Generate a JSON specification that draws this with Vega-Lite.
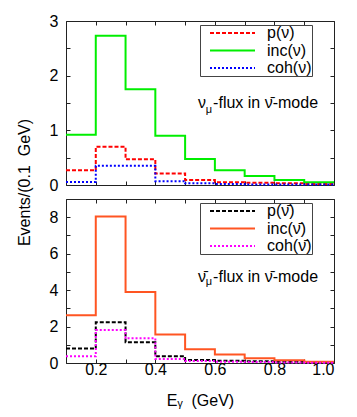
{
  "$schema": "https://vega.github.io/schema/vega-lite/v6.json",
  "autosize": {"type": "pad"},
  "padding": {"left": 15, "top": 12, "right": 24, "bottom": 5},
  "background": "white",
  "spacing": 14,
  "bounds": "flush",
  "datasets": {
    "top": [
      {"s": "p(ν)", "x": 0.1, "y": 0.27}, {"s": "p(ν)", "x": 0.2, "y": 0.70}, {"s": "p(ν)", "x": 0.3, "y": 0.47}, {"s": "p(ν)", "x": 0.4, "y": 0.21}, {"s": "p(ν)", "x": 0.5, "y": 0.09}, {"s": "p(ν)", "x": 0.6, "y": 0.05}, {"s": "p(ν)", "x": 0.7, "y": 0.04}, {"s": "p(ν)", "x": 0.8, "y": 0.03}, {"s": "p(ν)", "x": 0.9, "y": 0.02}, {"s": "p(ν)", "x": 1.0, "y": 0.02},
      {"s": "inc(ν)", "x": 0.1, "y": 0.92}, {"s": "inc(ν)", "x": 0.2, "y": 2.73}, {"s": "inc(ν)", "x": 0.3, "y": 1.75}, {"s": "inc(ν)", "x": 0.4, "y": 0.90}, {"s": "inc(ν)", "x": 0.5, "y": 0.475}, {"s": "inc(ν)", "x": 0.6, "y": 0.27}, {"s": "inc(ν)", "x": 0.7, "y": 0.165}, {"s": "inc(ν)", "x": 0.8, "y": 0.09}, {"s": "inc(ν)", "x": 0.9, "y": 0.05}, {"s": "inc(ν)", "x": 1.0, "y": 0.05},
      {"s": "coh(ν)", "x": 0.1, "y": 0.055}, {"s": "coh(ν)", "x": 0.2, "y": 0.35}, {"s": "coh(ν)", "x": 0.3, "y": 0.35}, {"s": "coh(ν)", "x": 0.4, "y": 0.07}, {"s": "coh(ν)", "x": 0.5, "y": 0.03}, {"s": "coh(ν)", "x": 0.6, "y": 0.02}, {"s": "coh(ν)", "x": 0.7, "y": 0.01}, {"s": "coh(ν)", "x": 0.8, "y": 0.01}, {"s": "coh(ν)", "x": 0.9, "y": 0.01}, {"s": "coh(ν)", "x": 1.0, "y": 0.01}
    ],
    "bottom": [
      {"s": "p(ν̄)", "x": 0.1, "y": 0.79}, {"s": "p(ν̄)", "x": 0.2, "y": 2.23}, {"s": "p(ν̄)", "x": 0.3, "y": 1.14}, {"s": "p(ν̄)", "x": 0.4, "y": 0.37}, {"s": "p(ν̄)", "x": 0.5, "y": 0.16}, {"s": "p(ν̄)", "x": 0.6, "y": 0.13}, {"s": "p(ν̄)", "x": 0.7, "y": 0.09}, {"s": "p(ν̄)", "x": 0.8, "y": 0.07}, {"s": "p(ν̄)", "x": 0.9, "y": 0.05}, {"s": "p(ν̄)", "x": 1.0, "y": 0.05},
      {"s": "inc(ν̄)", "x": 0.1, "y": 2.62}, {"s": "inc(ν̄)", "x": 0.2, "y": 8.04}, {"s": "inc(ν̄)", "x": 0.3, "y": 3.90}, {"s": "inc(ν̄)", "x": 0.4, "y": 1.56}, {"s": "inc(ν̄)", "x": 0.5, "y": 0.75}, {"s": "inc(ν̄)", "x": 0.6, "y": 0.46}, {"s": "inc(ν̄)", "x": 0.7, "y": 0.26}, {"s": "inc(ν̄)", "x": 0.8, "y": 0.15}, {"s": "inc(ν̄)", "x": 0.9, "y": 0.07}, {"s": "inc(ν̄)", "x": 1.0, "y": 0.07},
      {"s": "coh(ν̄)", "x": 0.1, "y": 0.37}, {"s": "coh(ν̄)", "x": 0.2, "y": 1.81}, {"s": "coh(ν̄)", "x": 0.3, "y": 1.36}, {"s": "coh(ν̄)", "x": 0.4, "y": 0.22}, {"s": "coh(ν̄)", "x": 0.5, "y": 0.11}, {"s": "coh(ν̄)", "x": 0.6, "y": 0.07}, {"s": "coh(ν̄)", "x": 0.7, "y": 0.05}, {"s": "coh(ν̄)", "x": 0.8, "y": 0.03}, {"s": "coh(ν̄)", "x": 0.9, "y": 0.02}, {"s": "coh(ν̄)", "x": 1.0, "y": 0.02}
    ]
  },
  "vconcat": [
    {
      "width": 268,
      "height": 164,
      "resolve": {"axis": {"x": "independent", "y": "independent"}},
      "layer": [
        {
          "data": {"name": "top"},
          "mark": {"type": "line", "interpolate": "step-after", "strokeWidth": 2},
          "encoding": {
            "x": {"field": "x", "type": "quantitative", "scale": {"domain": [0.1, 1.0], "nice": false, "zero": false},
              "axis": {"orient": "bottom", "labels": false, "title": null, "values": [0.1, 0.2, 0.3, 0.4, 0.5, 0.6, 0.7, 0.8, 0.9, 1.0]}},
            "y": {"field": "y", "type": "quantitative", "scale": {"domain": [0, 3], "nice": false},
              "axis": {"orient": "left", "values": [0, 0.5, 1, 1.5, 2, 2.5, 3], "labelExpr": "datum.value % 1 == 0 ? format(datum.value, 'd') : ''",
                "title": "Events/(0.1\u00a0\u00a0GeV)", "titleX": -42, "titleY": 161, "titleBaseline": "middle", "titleAlign": "center", "titleAngle": -90}},
            "color": {"field": "s", "type": "nominal",
              "scale": {"domain": ["p(ν)", "inc(ν)", "coh(ν)"], "range": ["#ff0000", "#00ee00", "#0000ff"]},
              "legend": {"orient": "none", "legendX": 134, "legendY": 4, "title": null}},
            "strokeDash": {"field": "s", "type": "nominal",
              "scale": {"domain": ["p(ν)", "inc(ν)", "coh(ν)"], "range": [[4, 2], [1, 0], [2, 2]]},
              "legend": {"orient": "none", "legendX": 134, "legendY": 4, "title": null}}
          }
        },
        {
          "data": {"values": [{}]},
          "mark": {"type": "text", "align": "left", "baseline": "middle", "fontSize": 16, "text": "-flux in ν̄-mode"},
          "encoding": {
            "x": {"datum": 0.594, "type": "quantitative", "axis": {"orient": "top", "labels": false, "title": null, "values": [0.1, 0.2, 0.3, 0.4, 0.5, 0.6, 0.7, 0.8, 0.9, 1.0]}},
            "y": {"datum": 1.5, "type": "quantitative", "axis": {"orient": "right", "labels": false, "title": null, "values": [0, 0.5, 1, 1.5, 2, 2.5, 3]}}
          }
        },
        {
          "data": {"values": [{}]},
          "mark": {"type": "text", "align": "left", "baseline": "middle", "fontSize": 16, "text": "ν"},
          "encoding": {
            "x": {"datum": 0.543, "type": "quantitative", "axis": null},
            "y": {"datum": 1.5, "type": "quantitative", "axis": null}
          }
        },
        {
          "data": {"values": [{}]},
          "mark": {"type": "text", "align": "left", "baseline": "middle", "fontSize": 11, "text": "μ"},
          "encoding": {
            "x": {"datum": 0.569, "type": "quantitative", "axis": null},
            "y": {"datum": 1.37, "type": "quantitative", "axis": null}
          }
        }
      ]
    },
    {
      "width": 268,
      "height": 164,
      "resolve": {"axis": {"x": "independent", "y": "independent"}},
      "layer": [
        {
          "data": {"name": "bottom"},
          "mark": {"type": "line", "interpolate": "step-after", "strokeWidth": 2},
          "encoding": {
            "x": {"field": "x", "type": "quantitative", "scale": {"domain": [0.1, 1.0], "nice": false, "zero": false},
              "axis": {"orient": "bottom", "values": [0.1, 0.2, 0.3, 0.4, 0.5, 0.6, 0.7, 0.8, 0.9, 1.0],
                "labelExpr": "round(datum.value * 10) % 2 == 0 ? format(datum.value, '.1f') : ''", "labelPadding": 2,
                "title": "E\u1d67\u00a0\u00a0(GeV)", "titleY": 37, "titleBaseline": "middle"}},
            "y": {"field": "y", "type": "quantitative", "scale": {"domain": [0, 9], "nice": false},
              "axis": {"orient": "left", "values": [0, 1, 2, 3, 4, 5, 6, 7, 8, 9], "labelExpr": "datum.value % 2 == 0 ? format(datum.value, 'd') : ''", "title": null}},
            "color": {"field": "s", "type": "nominal",
              "scale": {"domain": ["p(ν̄)", "inc(ν̄)", "coh(ν̄)"], "range": ["#000000", "#ff5522", "#ff00ff"]},
              "legend": {"orient": "none", "legendX": 134, "legendY": 4, "title": null}},
            "strokeDash": {"field": "s", "type": "nominal",
              "scale": {"domain": ["p(ν̄)", "inc(ν̄)", "coh(ν̄)"], "range": [[4, 2], [1, 0], [2, 2]]},
              "legend": {"orient": "none", "legendX": 134, "legendY": 4, "title": null}}
          }
        },
        {
          "data": {"values": [{}]},
          "mark": {"type": "text", "align": "left", "baseline": "middle", "fontSize": 16, "text": "-flux in ν̄-mode"},
          "encoding": {
            "x": {"datum": 0.594, "type": "quantitative", "axis": {"orient": "top", "labels": false, "title": null, "values": [0.1, 0.2, 0.3, 0.4, 0.5, 0.6, 0.7, 0.8, 0.9, 1.0]}},
            "y": {"datum": 4.7, "type": "quantitative", "axis": {"orient": "right", "labels": false, "title": null, "values": [0, 1, 2, 3, 4, 5, 6, 7, 8, 9]}}
          }
        },
        {
          "data": {"values": [{}]},
          "mark": {"type": "text", "align": "left", "baseline": "middle", "fontSize": 16, "text": "ν̄"},
          "encoding": {
            "x": {"datum": 0.543, "type": "quantitative", "axis": null},
            "y": {"datum": 4.7, "type": "quantitative", "axis": null}
          }
        },
        {
          "data": {"values": [{}]},
          "mark": {"type": "text", "align": "left", "baseline": "middle", "fontSize": 11, "text": "μ"},
          "encoding": {
            "x": {"datum": 0.569, "type": "quantitative", "axis": null},
            "y": {"datum": 4.43, "type": "quantitative", "axis": null}
          }
        }
      ]
    }
  ],
  "resolve": {
    "scale": {"color": "independent", "strokeDash": "independent"},
    "legend": {"color": "independent", "strokeDash": "independent"}
  },
  "config": {
    "font": "Liberation Sans",
    "view": {"stroke": "#222222", "strokeWidth": 1},
    "axis": {
      "domain": false, "grid": false, "ticks": true, "tickSize": -4, "tickColor": "#222222", "tickWidth": 1,
      "labelFontSize": 16, "labelColor": "#000000", "labelPadding": 12, "labelFont": "Liberation Sans",
      "titleFontSize": 16, "titleFontWeight": "normal", "titleColor": "#000000", "titleFont": "Liberation Sans"
    },
    "legend": {
      "symbolType": "stroke", "symbolSize": 2025, "symbolStrokeWidth": 2, "symbolOffset": 9, "clipHeight": 16,
      "labelFontSize": 16, "labelColor": "#000000", "labelOffset": 11, "labelFont": "Liberation Sans",
      "labelExpr": "datum.label + '   '",
      "padding": 0, "rowPadding": 1.5, "strokeColor": "#444444", "fillColor": "white", "cornerRadius": 0
    },
    "text": {"font": "Liberation Sans", "color": "#000000"}
  }
}
